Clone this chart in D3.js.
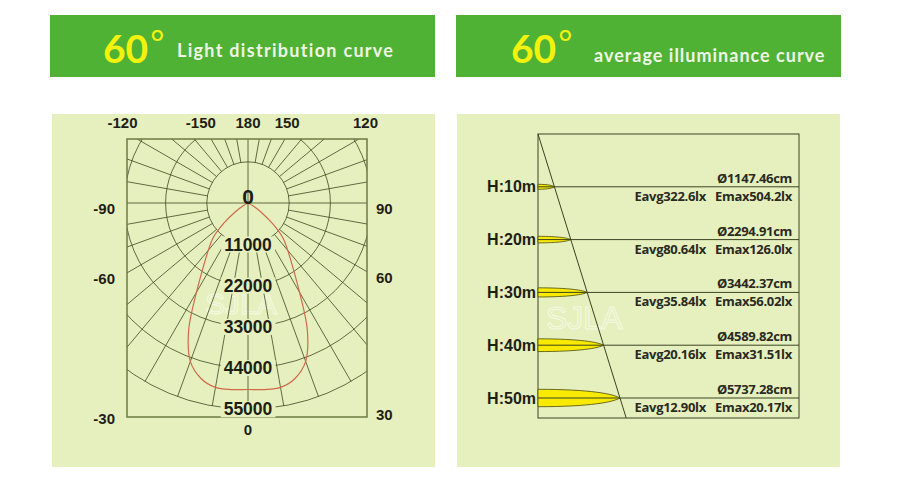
<!DOCTYPE html>
<html>
<head>
<meta charset="utf-8">
<script src="https://cdn.jsdelivr.net/npm/d3@7"></script>
<style>
body { margin: 0; background: #fff; }
text { font-family: "Liberation Sans", Arial, sans-serif; }
.head { font-family: Lato, sans-serif; font-weight: bold; }
.num { font-weight: bold; fill: #1e1e14; }
.info { font-family: "Open Sans", sans-serif; font-weight: bold; font-size: 13px; letter-spacing: -0.3px; fill: #2a2a1e; }
</style>
</head>
<body>
<div id="chart"></div>
<script>
// light distribution curve: angle from nadir (deg) -> intensity (cd)
var curveAngles = [0, 5, 10, 15, 20, 25, 30, 35, 40, 45, 50, 55, 60, 65, 70]
var curveValues = [49800, 50000, 50000, 48500, 45000, 37500, 27500, 20800, 16500, 13200, 8500, 4200, 1500, 300, 0]

var ringTicks = [11000, 22000, 33000, 44000, 55000]
var angleTicks = [-120, -150, 180, 150, 120, -90, 90, -60, 60, -30, 30, 0]

// average illuminance table
var heights = [10, 20, 30, 40, 50]
var diameters = [1147.46, 2294.91, 3442.37, 4589.82, 5737.28]
var eavg = [322.6, 80.64, 35.84, 20.16, 12.90]
var emax = [504.2, 126.0, 56.02, 31.51, 20.17]

var bg = '#e6f0bf'
var gridColor = '#3c4822'
var fmt4 = d3.format('.4r')
var fmtD = d3.format('.2f')

var svg = d3.select('#chart').append('svg').attr('width', 898).attr('height', 489)

// headers
function header(x, bigX, labelX, label, size, spacing, base){
  svg.append('rect').attr('x', x).attr('y', 15).attr('width', 385).attr('height', 62).attr('fill', '#50b234')
  var t = svg.append('text').attr('class', 'head').attr('x', bigX).attr('y', 63)
    .attr('fill', '#f3f20f').attr('font-size', 39).text('60')
  t.append('tspan').attr('font-size', 34).attr('font-weight', 'normal').attr('dx', 2).attr('dy', -8).text('°')
  svg.append('text').attr('class', 'head').attr('x', labelX).attr('y', base)
    .attr('fill', '#eef5e4').attr('font-size', size).attr('letter-spacing', spacing).text(label)
}
header(50, 103, 177, 'Light distribution curve', 18, 1.3, 57)
header(456, 511, 594, 'average illuminance curve', 18, 1.0, 62)

// panels
svg.append('rect').attr('x', 52).attr('y', 114).attr('width', 383).attr('height', 353).attr('fill', bg)
svg.append('rect').attr('x', 457).attr('y', 114).attr('width', 383).attr('height', 353).attr('fill', bg)

function watermark(x, y, size){
  svg.append('text').attr('x', x).attr('y', y).attr('font-size', size).attr('fill', 'none')
    .attr('stroke', '#f4f9e2').attr('stroke-width', 1).text('SJLA')
}

// ---- polar chart ----
var cx = 248, cy = 203
var box = {left: 127, right: 367, top: 139, bottom: 417}
var r = d3.scaleLinear().domain([0, 55000]).range([0, 206])
var rad = function(a){ return a * Math.PI / 180 }
function pt(a, rr){ return [cx + rr * Math.sin(rad(a)), cy + rr * Math.cos(rad(a))] }

svg.append('clipPath').attr('id', 'boxclip').append('rect')
  .attr('x', box.left).attr('y', box.top).attr('width', box.right - box.left).attr('height', box.bottom - box.top)

watermark(205, 314, 30)

var grid = svg.append('g').attr('clip-path', 'url(#boxclip)')
  .attr('stroke', gridColor).attr('stroke-width', 0.8).attr('fill', 'none')

grid.selectAll('circle').data(ringTicks).enter().append('circle')
  .attr('cx', cx).attr('cy', cy).attr('r', function(d){ return r(d) })

grid.selectAll('line').data(d3.range(0, 360, 10)).enter().append('line')
  .attr('x1', function(a){ return pt(a, a % 90 == 0 ? 0 : r(ringTicks[0]))[0] })
  .attr('y1', function(a){ return pt(a, a % 90 == 0 ? 0 : r(ringTicks[0]))[1] })
  .attr('x2', function(a){ return pt(a, r(55000))[0] })
  .attr('y2', function(a){ return pt(a, r(55000))[1] })

svg.append('rect').attr('x', box.left).attr('y', box.top)
  .attr('width', box.right - box.left).attr('height', box.bottom - box.top)
  .attr('fill', 'none').attr('stroke', '#6c7a42').attr('stroke-width', 1.5)

// intensity curve
var pts = curveAngles.map(function(a, i){ return {a: -a, v: curveValues[i]} }).reverse()
  .concat(curveAngles.slice(1).map(function(a, i){ return {a: a, v: curveValues[i + 1]} }))
var radial = d3.lineRadial()
  .angle(function(d){ return Math.PI - rad(d.a) })
  .radius(function(d){ return r(d.v) })
  .curve(d3.curveCatmullRom)
svg.append('path').attr('transform', 'translate(' + cx + ',' + cy + ')')
  .attr('d', radial(pts)).attr('fill', 'none').attr('stroke', '#d0694b').attr('stroke-width', 1.2)

// ring labels
ringTicks.forEach(function(v){
  var g = svg.append('g')
  var t = g.append('text').attr('class', 'num').attr('x', cx).attr('y', cy + r(v)).attr('dy', '0.36em')
    .attr('text-anchor', 'middle').attr('font-size', 17.5).text(v)
  var b = t.node().getBBox()
  g.insert('rect', 'text').attr('x', b.x - 3).attr('y', b.y + 2).attr('width', b.width + 6).attr('height', b.height - 4).attr('fill', bg)
})
svg.append('text').attr('class', 'num').attr('x', cx).attr('y', cy + 1)
  .attr('text-anchor', 'middle').attr('font-size', 21).text('0')

// angle labels where each ray meets the frame
function edgeHit(a){
  var dx = Math.sin(rad(a)), dy = Math.cos(rad(a)), ts = []
  if (dx > 1e-9) ts.push([(box.right - cx) / dx, 'right'])
  if (dx < -1e-9) ts.push([(box.left - cx) / dx, 'left'])
  if (dy > 1e-9) ts.push([(box.bottom - cy) / dy, 'bottom'])
  if (dy < -1e-9) ts.push([(box.top - cy) / dy, 'top'])
  var best = ts.sort(function(p, q){ return p[0] - q[0] })[0]
  return {x: cx + best[0] * dx, y: cy + best[0] * dy, side: best[1]}
}
angleTicks.forEach(function(a){
  var h = edgeHit(a)
  var t = svg.append('text').attr('class', 'num').attr('font-size', 15).text(a)
  if (h.side == 'top') t.attr('x', cx + (h.x - cx) * 1.06 - (a < 0 ? 8 : 0)).attr('y', box.top - 11).attr('text-anchor', 'middle')
  if (h.side == 'bottom') t.attr('x', h.x).attr('y', box.bottom + 18).attr('text-anchor', 'middle')
  if (h.side == 'right') t.attr('x', box.right + 9).attr('y', h.y + 11)
  if (h.side == 'left') t.attr('x', box.left - 12).attr('y', h.y + 11).attr('text-anchor', 'end')
})

// ---- average illuminance chart ----
var y = d3.scaleLinear().domain([0, 50]).range([134, 398])
var bx = d3.scaleLinear().domain([0, diameters[4] / 2]).range([538, 620])
var thick = d3.scalePow().exponent(2).domain([10, 50]).range([2.5, 8.7])
var frameR = 799, frameB = 418
var slope = (bx(diameters[4] / 2) - bx(0)) / (y(50) - y(0))

watermark(546, 329, 32)

var rg = svg.append('g')
rg.append('rect').attr('x', bx(0)).attr('y', y(0)).attr('width', frameR - bx(0)).attr('height', frameB - y(0))
  .attr('fill', 'none').attr('stroke', '#3a4220').attr('stroke-width', 1)

heights.forEach(function(h, i){
  var yy = y(h), x0 = bx(0), tip = bx(diameters[i] / 2), L = tip - x0, t = thick(h)
  rg.append('path')
    .attr('d', 'M' + x0 + ',' + (yy - t) +
      'C' + (x0 + L * 0.65) + ',' + (yy - t) + ' ' + (x0 + L * 0.92) + ',' + (yy - t * 0.45) + ' ' + tip + ',' + yy +
      'C' + (x0 + L * 0.92) + ',' + (yy + t * 0.45) + ' ' + (x0 + L * 0.65) + ',' + (yy + t) + ' ' + x0 + ',' + (yy + t) + 'Z')
    .attr('fill', '#f8ea00').attr('stroke', '#4a4a10').attr('stroke-width', 0.8)
  rg.append('line').attr('x1', x0).attr('x2', frameR).attr('y1', yy).attr('y2', yy)
    .attr('stroke', '#3a4220').attr('stroke-width', 1)

  rg.append('text').attr('class', 'num').attr('x', 536).attr('y', yy + 5.5).attr('text-anchor', 'end')
    .attr('font-size', 16).text('H:' + h + 'm')
  rg.append('text').attr('class', 'info').attr('x', 792).attr('y', yy - 4).attr('text-anchor', 'end')
    .text('Ø' + fmtD(diameters[i]) + 'cm')
  rg.append('text').attr('class', 'info').attr('x', 706).attr('y', yy + 14).attr('text-anchor', 'end')
    .text('Eavg' + fmt4(eavg[i]) + 'lx')
  rg.append('text').attr('class', 'info').attr('x', 792).attr('y', yy + 14).attr('text-anchor', 'end')
    .text('Emax' + fmt4(emax[i]) + 'lx')
})

rg.append('line').attr('x1', bx(0)).attr('y1', y(0))
  .attr('x2', bx(0) + (frameB - y(0)) * slope).attr('y2', frameB)
  .attr('stroke', '#3a4220').attr('stroke-width', 1)
</script>
</body>
</html>
